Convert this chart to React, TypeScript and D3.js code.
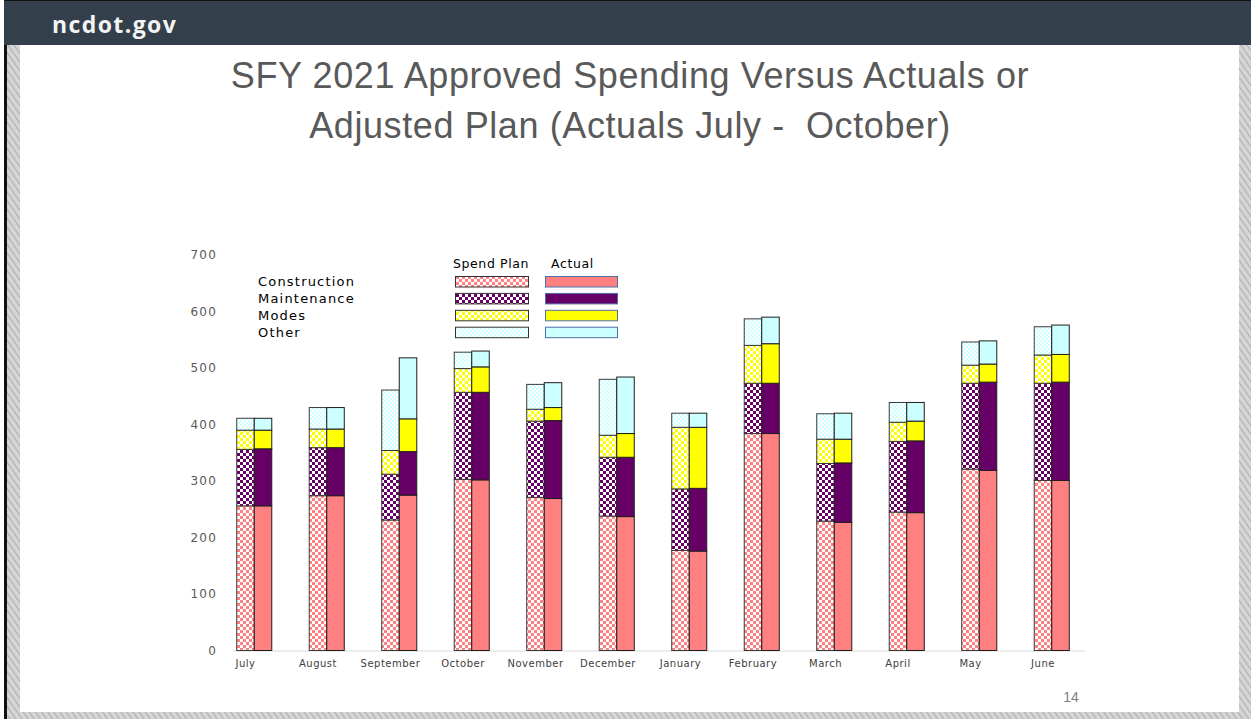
import { useEffect, useRef } from "react";
import * as d3 from "d3";

const months = ["July", "August", "September", "October", "November", "December", "January", "February", "March", "April", "May", "June"];
const categories = ["Construction", "Maintenance", "Modes", "Other"];

const planConstruction = [256, 274, 231, 303, 271, 238, 177, 384, 229, 245, 321, 301];
const planMaintenance = [100, 85, 81, 154, 135, 104, 109, 89, 102, 125, 152, 172];
const planModes = [34, 33, 42, 42, 21, 39, 109, 67, 43, 34, 32, 50];
const planOther = [21, 38, 107, 29, 44, 99, 25, 47, 45, 35, 41, 50];

const actualConstruction = [256, 274, 275, 302, 269, 237, 176, 384, 227, 244, 319, 301];
const actualMaintenance = [101, 85, 77, 155, 138, 105, 111, 89, 105, 127, 156, 174];
const actualModes = [33, 33, 58, 45, 23, 42, 108, 70, 42, 35, 32, 49];
const actualOther = [21, 38, 108, 28, 44, 100, 25, 47, 46, 33, 41, 52];

const yTicks = [0, 100, 200, 300, 400, 500, 600, 700];

const colors = ["#ff8080", "#660066", "#ffff00", "#ccffff"];

export default function App() {
  const ref = useRef(null);

  useEffect(() => {
    if (!ref.current) return;
    const W = 1251;
    const H = 719;

    const root = d3.select(ref.current);
    root.selectAll("*").remove();

    const svg = root
      .append("svg")
      .attr("width", W)
      .attr("height", H)
      .style("display", "block");

    const defs = svg.append("defs");

    // hatch for the slide frame
    const hatch = defs
      .append("pattern")
      .attr("id", "frame")
      .attr("patternUnits", "userSpaceOnUse")
      .attr("width", 5)
      .attr("height", 5)
      .attr("patternTransform", "rotate(-35)");
    hatch.append("rect").attr("width", 5).attr("height", 5).attr("fill", "#d6d6d6");
    hatch.append("rect").attr("width", 1.2).attr("height", 5).attr("fill", "#b0b0b0");

    // checker patterns for spend plan
    colors.forEach((c, i) => {
      const s = i === 3 ? 2 : 3;
      const p = defs
        .append("pattern")
        .attr("id", `chk${i}`)
        .attr("patternUnits", "userSpaceOnUse")
        .attr("width", s * 2)
        .attr("height", s * 2);
      p.append("rect").attr("width", s * 2).attr("height", s * 2).attr("fill", "#ffffff");
      p.append("rect").attr("width", s).attr("height", s).attr("fill", c);
      p.append("rect").attr("x", s).attr("y", s).attr("width", s).attr("height", s).attr("fill", c);
    });

    // slide background + frame
    svg.append("rect").attr("width", W).attr("height", H).attr("fill", "#ffffff");
    svg.append("rect").attr("x", 7).attr("y", 45).attr("width", 13).attr("height", H - 45).attr("fill", "url(#frame)");
    svg.append("rect").attr("x", 1239).attr("y", 45).attr("width", 12).attr("height", H - 45).attr("fill", "url(#frame)");
    svg.append("rect").attr("x", 7).attr("y", 712).attr("width", W - 7).attr("height", 7).attr("fill", "url(#frame)");
    svg.append("rect").attr("x", 4).attr("y", 0).attr("width", 3).attr("height", H).attr("fill", "#111");
    svg.append("rect").attr("x", 4).attr("y", 0).attr("width", W - 4).attr("height", 45).attr("fill", "#333f4b");
    svg.append("rect").attr("x", 4).attr("y", 0).attr("width", W - 4).attr("height", 1).attr("fill", "#111");

    svg.append("text")
      .attr("x", 52)
      .attr("y", 33)
      .attr("fill", "#f4f4f4")
      .style("font-family", "'Open Sans', 'DejaVu Sans', sans-serif")
      .style("font-weight", "700")
      .style("font-size", "23px")
      .style("letter-spacing", "1.4px")
      .text("ncdot.gov");

    // title
    const title = svg.append("text")
      .attr("text-anchor", "middle")
      .attr("fill", "#595959")
      .style("font-family", "'Liberation Sans', Arial, sans-serif")
      .style("font-size", "36px")
      .style("letter-spacing", "0.6px")
      .style("white-space", "pre");
    title.append("tspan").attr("x", 630).attr("y", 88).text("SFY 2021 Approved Spending Versus Actuals or");
    title.append("tspan").attr("x", 630).attr("y", 138).text("Adjusted Plan (Actuals July -  October)");

    svg.append("text")
      .attr("x", 1071)
      .attr("y", 702)
      .attr("text-anchor", "middle")
      .attr("fill", "#7f7f7f")
      .style("font-family", "'Liberation Sans', Arial, sans-serif")
      .style("font-size", "14px")
      .text("14");

    // chart
    const x = d3.scaleBand().domain(months).range([218, 1088]).padding(0);
    const xi = d3.scaleBand().domain(["plan", "actual"]).range([0, x.bandwidth()]).paddingInner(0).paddingOuter(1.07);
    const y = d3.scaleLinear().domain([0, 700]).range([650.5, 255]);

    const tickFont = "'DejaVu Sans', Verdana, sans-serif";

    svg.append("g")
      .selectAll("text")
      .data(yTicks)
      .join("text")
      .attr("x", 217)
      .attr("y", (d) => y(d))
      .attr("dy", "0.35em")
      .attr("text-anchor", "end")
      .attr("fill", "#595959")
      .style("font-family", tickFont)
      .style("font-size", "12px")
      .style("letter-spacing", "1.2px")
      .text((d) => d);

    svg.append("line")
      .attr("x1", 233)
      .attr("x2", 1085)
      .attr("y1", y(0) + 0.5)
      .attr("y2", y(0) + 0.5)
      .attr("stroke", "#d9d9d9")
      .attr("stroke-width", 1.2);

    const planRows = months.map((m, i) => ({
      month: m,
      Construction: planConstruction[i],
      Maintenance: planMaintenance[i],
      Modes: planModes[i],
      Other: planOther[i],
    }));
    const actualRows = months.map((m, i) => ({
      month: m,
      Construction: actualConstruction[i],
      Maintenance: actualMaintenance[i],
      Modes: actualModes[i],
      Other: actualOther[i],
    }));

    const stack = d3.stack<any>().keys(categories);
    const drawStack = (rows: any[], kind: string) => {
      const series = stack(rows);
      svg.append("g")
        .selectAll("g")
        .data(series)
        .join("g")
        .each(function (s, si) {
          d3.select(this)
            .selectAll("rect")
            .data(s)
            .join("rect")
            .attr("x", (d: any) => x(d.data.month)! + xi(kind)!)
            .attr("y", (d: any) => y(d[1]))
            .attr("width", xi.bandwidth())
            .attr("height", (d: any) => y(d[0]) - y(d[1]))
            .attr("fill", kind === "plan" ? `url(#chk${si})` : colors[si])
            .attr("stroke", kind === "plan" ? "#3a3a3a" : "#1e1e1e")
            .attr("stroke-width", 1);
        });
    };
    drawStack(planRows, "plan");
    drawStack(actualRows, "actual");

    svg.append("g")
      .selectAll("text")
      .data(months)
      .join("text")
      .attr("x", (d) => x(d)! + xi("plan")! + xi.bandwidth() / 2)
      .attr("y", 667)
      .attr("text-anchor", "middle")
      .attr("fill", "#404040")
      .style("font-family", tickFont)
      .style("font-size", "10px")
      .style("letter-spacing", "0.5px")
      .text((d) => d);

    // legend
    const lg = svg.append("g").style("font-family", tickFont).attr("fill", "#000");
    lg.append("text").attr("x", 453).attr("y", 268).style("font-size", "12.5px").style("letter-spacing", "0.6px").text("Spend Plan");
    lg.append("text").attr("x", 551).attr("y", 268).style("font-size", "12.5px").style("letter-spacing", "0.6px").text("Actual");
    categories.forEach((c, i) => {
      const rowY = 286 + i * 16.9;
      lg.append("text")
        .attr("x", 258)
        .attr("y", rowY)
        .style("font-size", "13px")
        .style("letter-spacing", "1.2px")
        .text(c);
      lg.append("rect")
        .attr("x", 455.5)
        .attr("y", rowY - 9.5)
        .attr("width", 73)
        .attr("height", 10.5)
        .attr("fill", `url(#chk${i})`)
        .attr("stroke", "#333")
        .attr("stroke-width", 1);
      lg.append("rect")
        .attr("x", 545.5)
        .attr("y", rowY - 9.5)
        .attr("width", 72)
        .attr("height", 10.5)
        .attr("fill", colors[i])
        .attr("stroke", "#4f6fa8")
        .attr("stroke-width", 1);
    });
  }, []);

  return <div ref={ref} style={{ position: "fixed", left: 0, top: 0, width: 1251, height: 719 }} />;
}
